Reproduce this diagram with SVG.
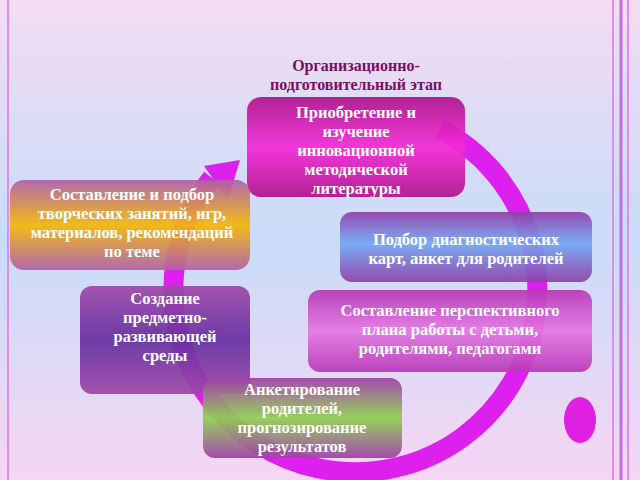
<svg xmlns="http://www.w3.org/2000/svg" width="640" height="480" viewBox="0 0 640 480">
<defs>
<linearGradient id="bg" x1="0" y1="0" x2="0" y2="1"><stop offset="0" stop-color="#f3dcf3"/><stop offset="0.5" stop-color="#c8dcf8"/><stop offset="1" stop-color="#f6d6f3"/></linearGradient>
<linearGradient id="g1" x1="0" y1="0" x2="0" y2="1"><stop offset="0" stop-color="#b0148c"/><stop offset="0.5" stop-color="#f42ad8"/><stop offset="1" stop-color="#b0148c"/></linearGradient>
<linearGradient id="g2" x1="0" y1="0" x2="0" y2="1"><stop offset="0" stop-color="#b060a8"/><stop offset="0.5" stop-color="#f4b808"/><stop offset="1" stop-color="#b060a8"/></linearGradient>
<linearGradient id="g3" x1="0" y1="0" x2="0" y2="1"><stop offset="0" stop-color="#9040a8"/><stop offset="0.45" stop-color="#74a8f4"/><stop offset="1" stop-color="#9040a8"/></linearGradient>
<linearGradient id="g4" x1="0" y1="0" x2="0" y2="1"><stop offset="0" stop-color="#b838b8"/><stop offset="0.5" stop-color="#e478e4"/><stop offset="1" stop-color="#b838b8"/></linearGradient>
<linearGradient id="g5" x1="0" y1="0" x2="0" y2="1"><stop offset="0" stop-color="#a048a8"/><stop offset="0.5" stop-color="#6430a0"/><stop offset="1" stop-color="#a048a8"/></linearGradient>
<linearGradient id="g6" x1="0" y1="0" x2="0" y2="1"><stop offset="0" stop-color="#a040a8"/><stop offset="0.5" stop-color="#90d050"/><stop offset="1" stop-color="#a040a8"/></linearGradient>
</defs>
<style>
.t{font-family:"Liberation Serif",serif;font-weight:bold;font-size:16.5px;fill:#fff;text-anchor:middle}
.h{font-family:"Liberation Serif",serif;font-weight:bold;font-size:16px;fill:#7a1060;text-anchor:middle}
.b{stroke:none;opacity:0.93}
</style>
<rect width="640" height="480" fill="url(#bg)"/>
<line x1="8" y1="0" x2="8" y2="480" stroke="#d890e8" stroke-width="2"/>
<line x1="613" y1="0" x2="613" y2="480" stroke="#d890e8" stroke-width="2"/>
<line x1="621" y1="0" x2="621" y2="480" stroke="#c070d8" stroke-width="3"/>
<line x1="628" y1="0" x2="628" y2="480" stroke="#d890e8" stroke-width="2"/>
<g id="connectors">
<path d="M 440 129 A 182 182 0 1 1 212 178" fill="none" stroke="#dd20ee" stroke-width="20"/>
<polygon points="240,160 204,166 228,200" fill="#dd20ee"/>
</g>
<g id="title"><text class="h" x="356" y="71">Организационно-</text><text class="h" x="356" y="90">подготовительный этап</text></g>
<g id="n1"><rect class="b" x="247" y="97" width="218" height="100" rx="14" fill="url(#g1)"/>
<text class="t" x="356" y="118">Приобретение и</text><text class="t" x="356" y="137">изучение</text><text class="t" x="356" y="156">инновационной</text><text class="t" x="356" y="175">методической</text><text class="t" x="356" y="194">литературы</text></g>
<g id="n2"><rect class="b" x="10" y="180" width="240" height="90" rx="14" fill="url(#g2)"/>
<text class="t" x="132" y="200">Составление и подбор</text><text class="t" x="132" y="219">творческих занятий,  игр,</text><text class="t" x="132" y="238">материалов, рекомендаций</text><text class="t" x="132" y="257">по теме</text></g>
<g id="n3"><rect class="b" x="340" y="212" width="252" height="70" rx="12" fill="url(#g3)"/>
<text class="t" x="466" y="245">Подбор диагностических</text><text class="t" x="466" y="264">карт, анкет для родителей</text></g>
<g id="n4"><rect class="b" x="308" y="290" width="284" height="82" rx="12" fill="url(#g4)"/>
<text class="t" x="450" y="316">Составление перспективного</text><text class="t" x="450" y="335">плана работы с детьми,</text><text class="t" x="450" y="354">родителями, педагогами</text></g>
<g id="n5"><rect class="b" x="80" y="286" width="170" height="108" rx="12" fill="url(#g5)"/>
<text class="t" x="165" y="304">Создание</text><text class="t" x="165" y="323">предметно-</text><text class="t" x="165" y="342">развивающей</text><text class="t" x="165" y="361">среды</text></g>
<g id="n6"><rect class="b" x="203" y="378" width="199" height="80" rx="12" fill="url(#g6)"/>
<text class="t" x="302" y="395">Анкетирование</text><text class="t" x="302" y="414">родителей,</text><text class="t" x="302" y="433">прогнозирование</text><text class="t" x="302" y="452">результатов</text></g>
<ellipse cx="580" cy="420" rx="16" ry="23" fill="#e020e0"/>
</svg>
